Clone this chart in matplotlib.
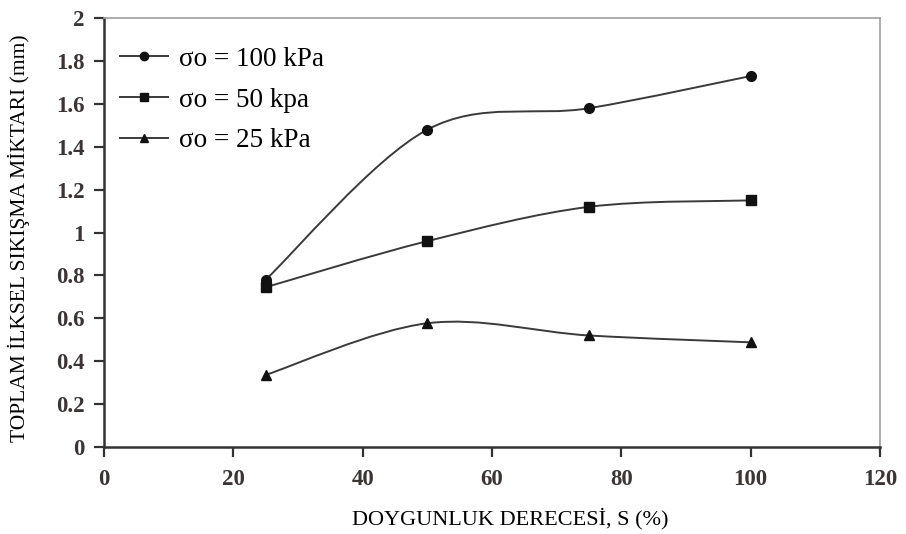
import matplotlib
matplotlib.use("Agg")
import matplotlib.pyplot as plt
import numpy as np
from matplotlib.font_manager import FontProperties
from matplotlib.lines import Line2D
from matplotlib.path import Path
from matplotlib.patches import PathPatch

SERIF = ["Liberation Serif", "DejaVu Serif"]
plt.rcParams["font.family"] = SERIF

saturation = [25, 50, 75, 100]
settle_100 = [0.78, 1.48, 1.58, 1.73]
settle_50 = [0.745, 0.96, 1.12, 1.15]
settle_25 = [0.336, 0.577, 0.52, 0.488]

labels = ["σo = 100 kPa", "σo = 50 kpa", "σo = 25 kPa"]
markers = ["o", "s", "^"]

x_ticks = [0, 20, 40, 60, 80, 100, 120]
y_ticks = [0, 0.2, 0.4, 0.6, 0.8, 1, 1.2, 1.4, 1.6, 1.8, 2]

LINE_COLOR = "#3a3a3a"
MARK_COLOR = "#111111"
TICK_TEXT = "#3b3535"


def smooth_path(xs, ys):
    """Bezier path through the points, smoothed like a spreadsheet line chart."""
    pts = np.column_stack([xs, ys]).astype(float)
    n = len(pts)
    verts = [pts[0]]
    codes = [Path.MOVETO]
    for i in range(n - 1):
        p_prev = pts[max(i - 1, 0)]
        p0 = pts[i]
        p1 = pts[i + 1]
        p_next = pts[min(i + 2, n - 1)]
        c1 = p0 + (p1 - p_prev) / 6.0
        c2 = p1 - (p_next - p0) / 6.0
        verts += [c1, c2, p1]
        codes += [Path.CURVE4] * 3
    return Path(verts, codes)


fig = plt.figure(figsize=(9.06, 5.34), dpi=100, facecolor="white")
ax = fig.add_axes([0.1148, 0.163, 0.8565, 0.803])

handles = []
for ys, lab, mk in zip([settle_100, settle_50, settle_25], labels, markers):
    patch = PathPatch(smooth_path(saturation, ys), facecolor="none",
                      edgecolor=LINE_COLOR, lw=1.4, zorder=2)
    ax.add_patch(patch)
    ax.plot(saturation, ys, linestyle="none", marker=mk, markersize=7,
            color=MARK_COLOR, zorder=3)
    handles.append(Line2D([], [], color=LINE_COLOR, lw=1.4, marker=mk,
                          markersize=6, markerfacecolor=MARK_COLOR,
                          markeredgecolor=MARK_COLOR, label=lab))

ax.set_xlim(0, 120)
ax.set_ylim(0, 2)
ax.set_xticks(x_ticks)
ax.set_yticks(y_ticks)
ax.set_xticklabels([str(t) for t in x_ticks])
ax.set_yticklabels([f"{t:g}" for t in y_ticks])

tick_font = FontProperties(family=SERIF, weight="bold", size=16.5)
for lab in ax.get_xticklabels() + ax.get_yticklabels():
    lab.set_fontproperties(tick_font)
    lab.set_color(TICK_TEXT)

ax.tick_params(axis="both", direction="out", length=7, width=1.6,
               color="#333333")
ax.tick_params(axis="x", pad=9)
ax.tick_params(axis="y", pad=7)

for side in ["left", "bottom"]:
    ax.spines[side].set_color("#333333")
    ax.spines[side].set_linewidth(1.8)
for side in ["top", "right"]:
    ax.spines[side].set_color("#a0a0a0")
    ax.spines[side].set_linewidth(1.2)

ax.set_xlabel("DOYGUNLUK DERECESİ, S (%)",
              fontproperties=FontProperties(family=SERIF, size=16))
ax.set_ylabel("TOPLAM İLKSEL SIKIŞMA MİKTARI (mm)",
              fontproperties=FontProperties(family=SERIF, size=15.5))
ax.xaxis.set_label_coords(0.523, -0.141)
ax.yaxis.set_label_coords(-0.095, 0.486)

ax.legend(handles=handles, loc="upper left", bbox_to_anchor=(0.02, 0.933),
          frameon=False, prop=FontProperties(family=SERIF, size=19.5),
          handlelength=1.8, handletextpad=0.4, labelspacing=0.58,
          borderaxespad=0, borderpad=0)

fig.savefig("out.png", dpi=100)
